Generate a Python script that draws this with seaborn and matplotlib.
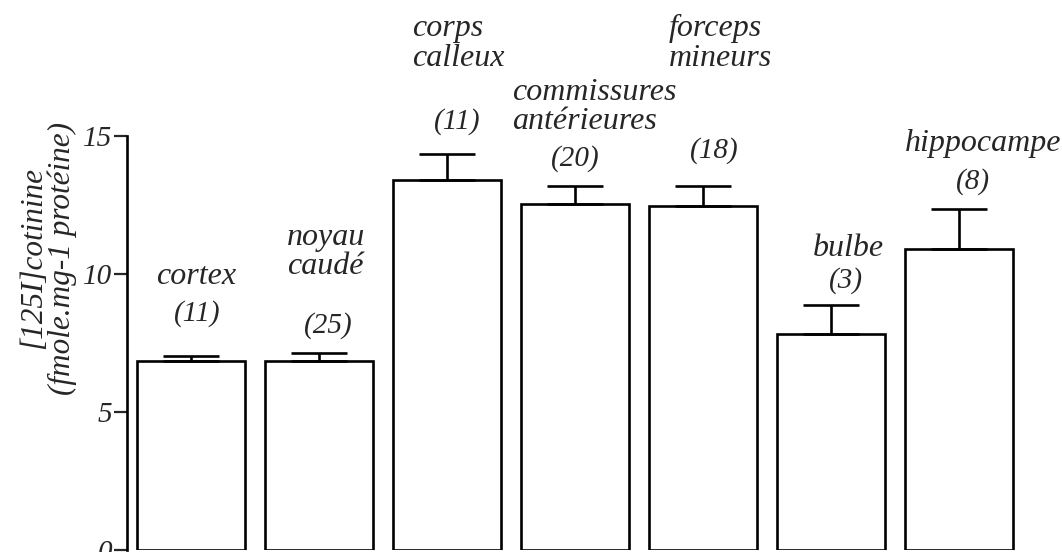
import matplotlib
matplotlib.use("Agg")
from matplotlib import pyplot as plt
import seaborn as sns
import numpy as np
import pandas as pd

# data
regions = ["cortex", "noyau\ncaudé", "corps\ncalleux", "commissures\nantérieures",
           "forceps\nmineurs", "bulbe", "hippocampe"]
binding = [6.85, 6.85, 13.4, 12.55, 12.45, 7.83, 10.9]
sem = [0.18, 0.29, 0.95, 0.65, 0.73, 1.05, 1.46]
n_animals = [11, 25, 11, 20, 18, 3, 8]
y_ticks = [0, 5, 10, 15]

# label placement (data coords): name left-edge offset, name baseline, count offset, count baseline
name_dx = [-0.27, -0.25, -0.27, -0.49, -0.27, -0.14, -0.42]
name_y = [9.64, 10.0, 17.54, 15.25, 17.54, 10.65, 14.46]
count_dx = [0.05, 0.07, 0.08, 0.0, 0.09, 0.12, 0.11]
count_y = [8.3, 7.86, 15.25, 13.91, 14.2, 9.49, 13.1]

df = pd.DataFrame({"region": regions, "binding": binding})

sns.set_style("white")
plt.rcParams["font.family"] = ["Liberation Serif", "DejaVu Serif"]
plt.rcParams["font.style"] = "italic"

fig = plt.figure(figsize=(10.62, 5.52), dpi=100)
ax = fig.add_axes([127 / 1062, 2 / 552, 896 / 1062, 414 / 552])

sns.barplot(data=df, x="region", y="binding", color="white", edgecolor="black",
            linewidth=1.9, width=0.84, ax=ax)
ax.errorbar(np.arange(len(binding)), binding,
            yerr=[np.zeros(len(sem)), sem], fmt="none", ecolor="black",
            elinewidth=1.9, capsize=20, capthick=1.9, zorder=1)

for i, name in enumerate(regions):
    ax.text(i + name_dx[i], name_y[i], name, ha="left", va="baseline",
            fontsize=23, linespacing=1.02, clip_on=False)
    ax.text(i + count_dx[i], count_y[i], f"({n_animals[i]})", ha="center",
            va="baseline", fontsize=21, clip_on=False)

ax.set_xlim(-0.5, 6.5)
ax.set_ylim(0, 15)
ax.set_yticks(y_ticks)
ax.set_yticklabels([str(t) for t in y_ticks])
ax.set_xticks([])
ax.set_xlabel("")
ax.set_ylabel("[125I]cotinine\n(fmole.mg-1 protéine)", fontsize=22.5, linespacing=0.97)
ax.yaxis.set_label_coords(-0.056, 0.705)
ax.tick_params(axis="y", direction="out", length=9.5, width=1.6, labelsize=21,
               left=True, pad=1)

for side in ["top", "right", "bottom"]:
    ax.spines[side].set_visible(False)
ax.spines["left"].set_linewidth(1.9)
ax.spines["left"].set_color("black")

fig.savefig("out.png", dpi=100)
